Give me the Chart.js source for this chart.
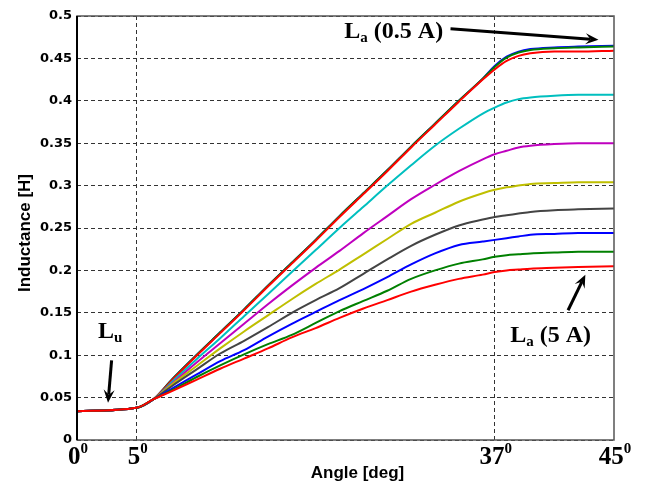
<!DOCTYPE html>
<html lang="en">
<head>
<meta charset="UTF-8">
<title>Inductance vs angle</title>
<script src="https://cdn.jsdelivr.net/npm/chart.js"></script>
<style>
    body { margin: 0; background: #fff; }
    #wrap { width: 645px; height: 488px; }
</style>
</head>
<body>
<div id="wrap"><canvas id="chart" width="645" height="488"></canvas></div>
<script>
// rotor angle samples (deg), shared by all curves
const angles = [0, 5, 6.4, 8, 10, 12, 14, 16, 18, 20, 22, 24, 26, 28, 30, 32, 34, 35, 36, 37, 38, 40, 42, 45];

// inductance [H] for each phase current
const L_05 = [0.034, 0.038, 0.048, 0.072, 0.100, 0.127, 0.154, 0.182, 0.209, 0.236, 0.264, 0.291, 0.318, 0.346, 0.373, 0.400, 0.426, 0.441, 0.452, 0.458, 0.461, 0.463, 0.464, 0.465];
const L_10 = [0.034, 0.038, 0.048, 0.072, 0.100, 0.127, 0.154, 0.182, 0.209, 0.236, 0.264, 0.291, 0.318, 0.346, 0.373, 0.400, 0.426, 0.440, 0.451, 0.457, 0.460, 0.462, 0.463, 0.464];
const L_15 = [0.034, 0.038, 0.048, 0.071, 0.099, 0.126, 0.153, 0.181, 0.208, 0.235, 0.263, 0.290, 0.317, 0.345, 0.372, 0.399, 0.425, 0.437, 0.447, 0.453, 0.456, 0.458, 0.458, 0.459];
const L_20 = [0.034, 0.038, 0.048, 0.069, 0.095, 0.120, 0.146, 0.172, 0.198, 0.224, 0.250, 0.275, 0.300, 0.324, 0.347, 0.367, 0.385, 0.392, 0.398, 0.402, 0.404, 0.406, 0.407, 0.407];
const L_25 = [0.034, 0.038, 0.048, 0.067, 0.091, 0.114, 0.137, 0.160, 0.182, 0.203, 0.223, 0.244, 0.264, 0.284, 0.301, 0.317, 0.331, 0.337, 0.341, 0.345, 0.347, 0.349, 0.350, 0.350];
const L_30 = [0.034, 0.038, 0.048, 0.066, 0.087, 0.108, 0.128, 0.147, 0.166, 0.184, 0.201, 0.219, 0.237, 0.255, 0.268, 0.281, 0.291, 0.295, 0.298, 0.300, 0.302, 0.303, 0.304, 0.304];
const L_35 = [0.034, 0.038, 0.048, 0.064, 0.083, 0.102, 0.117, 0.133, 0.150, 0.165, 0.179, 0.196, 0.213, 0.229, 0.242, 0.253, 0.260, 0.263, 0.265, 0.267, 0.269, 0.271, 0.272, 0.273];
const L_40 = [0.034, 0.038, 0.048, 0.061, 0.077, 0.093, 0.106, 0.122, 0.137, 0.151, 0.165, 0.178, 0.192, 0.207, 0.220, 0.230, 0.234, 0.236, 0.238, 0.240, 0.242, 0.243, 0.244, 0.244];
const L_45 = [0.034, 0.038, 0.048, 0.059, 0.074, 0.088, 0.101, 0.113, 0.124, 0.138, 0.152, 0.164, 0.176, 0.190, 0.200, 0.208, 0.213, 0.216, 0.218, 0.219, 0.220, 0.221, 0.222, 0.222];
const L_50 = [0.034, 0.038, 0.048, 0.058, 0.071, 0.084, 0.096, 0.108, 0.121, 0.132, 0.144, 0.155, 0.165, 0.175, 0.183, 0.190, 0.195, 0.198, 0.200, 0.201, 0.202, 0.203, 0.204, 0.205];

const currents = ['0.5 A', '1 A', '1.5 A', '2 A', '2.5 A', '3 A', '3.5 A', '4 A', '4.5 A', '5 A'];
const series = [L_05, L_10, L_15, L_20, L_25, L_30, L_35, L_40, L_45, L_50];
// matlab default colour order
const colors = ['#0000ff', '#008000', '#ff0000', '#00bfbf', '#bf00bf', '#bfbf00', '#444444', '#0000ff', '#008000', '#ff0000'];

// axis ticks (the figure marks its second vertical line "37")
const xTicks = [0, 5, 35, 45];
const xTickLabels = ['0', '5', '37', '45'];
const yTicks = [0, 0.05, 0.1, 0.15, 0.2, 0.25, 0.3, 0.35, 0.4, 0.45, 0.5];
const yTickLabels = ['0', '0.05', '0.1', '0.15', '0.2', '0.25', '0.3', '0.35', '0.4', '0.45', '0.5'];

// text callouts, placed in data units
const callouts = [
    { main: 'L', sub: 'a', rest: ' (0.5 A)', at: [22.4, 0.474], from: [31.3, 0.485], to: [43.7, 0.472] },
    { main: 'L', sub: 'u', rest: '', at: [1.75, 0.120], from: [2.9, 0.094], to: [2.6, 0.044] },
    { main: 'L', sub: 'a', rest: ' (5 A)', at: [36.3, 0.116], from: [41.15, 0.153], to: [42.6, 0.195] }
];

const serif = '"Liberation Serif", "Times New Roman", serif';
const sans = '"Liberation Sans", Arial, sans-serif';

function arrow(ctx, x1, y1, x2, y2) {
    const ang = Math.atan2(y2 - y1, x2 - x1);
    const len = 13, half = 5.5, notch = 8;
    ctx.lineWidth = 3;
    ctx.beginPath();
    ctx.moveTo(x1, y1);
    ctx.lineTo(x2 - Math.cos(ang) * notch, y2 - Math.sin(ang) * notch);
    ctx.stroke();
    const bx = x2 - Math.cos(ang) * len, by = y2 - Math.sin(ang) * len;
    const nx = -Math.sin(ang), ny = Math.cos(ang);
    ctx.beginPath();
    ctx.moveTo(x2, y2);
    ctx.lineTo(bx + nx * half, by + ny * half);
    ctx.lineTo(x2 - Math.cos(ang) * notch, y2 - Math.sin(ang) * notch);
    ctx.lineTo(bx - nx * half, by - ny * half);
    ctx.closePath();
    ctx.fill();
}

const decor = {
    id: 'decor',
    afterDraw(chart) {
        const { ctx, chartArea: a, scales: { x, y } } = chart;
        ctx.save();

        // axes box
        ctx.strokeStyle = '#555';
        ctx.lineWidth = 1.5;
        ctx.strokeRect(a.left, a.top, a.right - a.left, a.bottom - a.top);
        ctx.strokeStyle = '#000';
        ctx.lineWidth = 2;
        ctx.beginPath();
        ctx.moveTo(a.left, a.top);
        ctx.lineTo(a.left, a.bottom);
        ctx.stroke();

        // x tick labels with a degree superscript
        ctx.fillStyle = '#000';
        ctx.textAlign = 'left';
        ctx.textBaseline = 'alphabetic';
        const big = 'bold 25px ' + serif, small = 'bold 15px ' + serif;
        xTicks.forEach((v, i) => {
            ctx.font = big;
            const w1 = ctx.measureText(xTickLabels[i]).width;
            ctx.font = small;
            const w2 = ctx.measureText('0').width;
            const left = x.getPixelForValue(v) - (w1 + w2) / 2 + 1;
            ctx.font = big;
            ctx.fillText(xTickLabels[i], left, a.bottom + 24);
            ctx.font = small;
            ctx.fillText('0', left + w1, a.bottom + 13);
        });

        // axis titles
        ctx.textAlign = 'center';
        ctx.textBaseline = 'middle';
        ctx.font = 'bold 17px ' + sans;
        ctx.fillText('Angle [deg]', (a.left + a.right) / 2 + 12, a.bottom + 33);
        ctx.save();
        ctx.translate(25, (a.top + a.bottom) / 2 + 5);
        ctx.rotate(-Math.PI / 2);
        ctx.fillText('Inductance [H]', 0, 0);
        ctx.restore();

        // callouts
        ctx.textAlign = 'left';
        ctx.textBaseline = 'alphabetic';
        ctx.strokeStyle = '#000';
        callouts.forEach(c => {
            let px = x.getPixelForValue(c.at[0]);
            const py = y.getPixelForValue(c.at[1]);
            ctx.font = 'bold 24px ' + serif;
            ctx.fillText(c.main, px, py);
            px += ctx.measureText(c.main).width;
            ctx.font = 'bold 15px ' + serif;
            ctx.fillText(c.sub, px, py + 4);
            px += ctx.measureText(c.sub).width;
            ctx.font = 'bold 24px ' + serif;
            ctx.fillText(c.rest, px, py);
            arrow(ctx, x.getPixelForValue(c.from[0]), y.getPixelForValue(c.from[1]),
                x.getPixelForValue(c.to[0]), y.getPixelForValue(c.to[1]));
        });

        ctx.restore();
    }
};

const datasets = series.map((vals, i) => ({
    label: currents[i],
    data: angles.map((a, j) => ({ x: a, y: vals[j] })),
    borderColor: colors[i],
    borderWidth: 2,
    pointRadius: 0,
    fill: false,
    cubicInterpolationMode: 'monotone',
    order: series.length - i   // later currents drawn on top, like matlab
}));

new Chart(document.getElementById('chart'), {
    type: 'line',
    data: { datasets },
    options: {
        responsive: false,
        animation: false,
        devicePixelRatio: 1,
        layout: { padding: { top: 16, right: 31, left: 0, bottom: 0 } },
        plugins: { legend: { display: false }, tooltip: { enabled: false } },
        scales: {
            x: {
                type: 'linear',
                min: 0,
                max: 45,
                afterBuildTicks: s => { s.ticks = xTicks.map(v => ({ value: v })); },
                afterFit: s => { s.height = 48; },
                ticks: { display: false },
                grid: {
                    drawTicks: false,
                    lineWidth: 1,
                    color: c => (c.tick && (c.tick.value === 5 || c.tick.value === 35)) ? '#333' : 'rgba(0,0,0,0)'
                },
                border: { display: false, dash: [4, 3] }
            },
            y: {
                type: 'linear',
                min: 0,
                max: 0.5,
                afterBuildTicks: s => { s.ticks = yTicks.map(v => ({ value: v })); },
                afterFit: s => { s.width = 77; },
                ticks: {
                    callback: (v, i) => yTickLabels[i],
                    color: '#000',
                    padding: 5,
                    font: { family: '"DejaVu Sans", sans-serif', size: 13, weight: 'bold' }
                },
                grid: { drawTicks: false, lineWidth: 1, color: '#333' },
                border: { display: false, dash: [4, 3] }
            }
        }
    },
    plugins: [decor]
});
</script>
</body>
</html>
